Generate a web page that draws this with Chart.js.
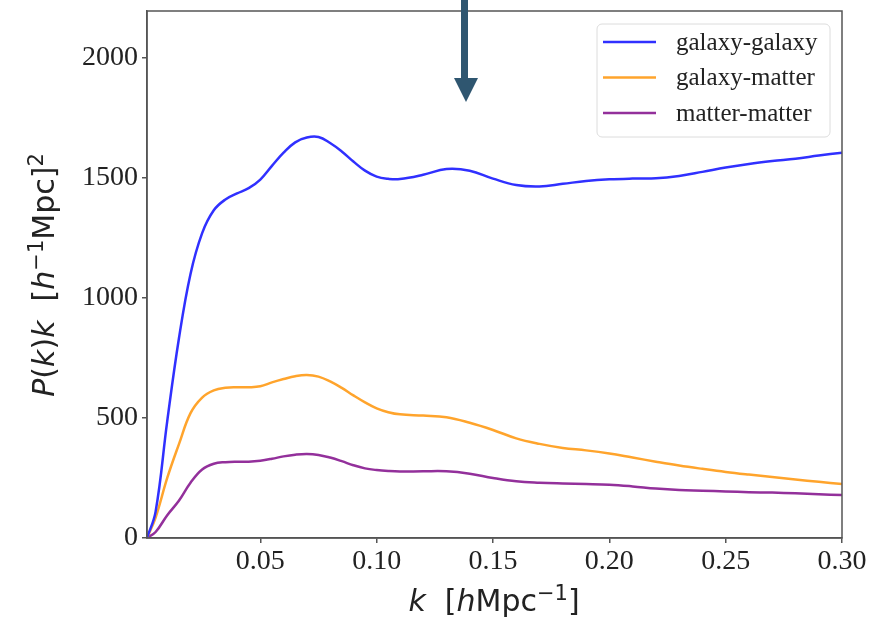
<!DOCTYPE html>
<html>
<head>
<meta charset="utf-8">
<script src="https://cdn.jsdelivr.net/npm/chart.js@4/dist/chart.umd.min.js"></script>
<style>
  html, body { margin: 0; padding: 0; background: #fff; }
  #wrap { width: 892px; height: 618px; }
</style>
</head>
<body>
<div id="wrap"><canvas id="myChart" width="892" height="618"></canvas></div>
<script>
// wavenumber k [h/Mpc]
const kValues = [0.0013, 0.005, 0.01, 0.015, 0.02, 0.025, 0.03, 0.035, 0.04, 0.045,
  0.05, 0.055, 0.06, 0.065, 0.07, 0.075, 0.08, 0.085, 0.09, 0.095,
  0.10, 0.105, 0.11, 0.12, 0.13, 0.14, 0.15, 0.16, 0.17, 0.18,
  0.19, 0.20, 0.21, 0.22, 0.23, 0.24, 0.25, 0.26, 0.27, 0.28, 0.29, 0.30];

const galaxyGalaxy = [0, 110, 487, 830, 1100, 1270, 1365, 1410, 1435, 1457,
  1493, 1550, 1605, 1648, 1668, 1670, 1645, 1610, 1568, 1530,
  1505, 1496, 1495, 1513, 1537, 1530, 1497, 1470, 1464, 1475,
  1487, 1494, 1497, 1498, 1508, 1525, 1543, 1558, 1570, 1580, 1593, 1605];

const galaxyMatter = [0, 85, 250, 390, 520, 585, 615, 626, 628, 628,
  632, 648, 662, 674, 679, 672, 652, 625, 594, 565,
  540, 524, 515, 510, 503, 480, 450, 415, 392, 375,
  365, 352, 335, 318, 302, 288, 275, 264, 254, 244, 234, 225];

const matterMatter = [0, 25, 95, 155, 230, 285, 309, 316, 318, 318,
  322, 330, 340, 347, 350, 346, 335, 320, 303, 290,
  283, 279, 277, 278, 278, 268, 250, 236, 230, 227,
  225, 222, 215, 206, 200, 197, 194, 191, 189, 186, 182, 179];

const seriesLabels = ['galaxy-galaxy', 'galaxy-matter', 'matter-matter'];
const xTicks = [0.05, 0.10, 0.15, 0.20, 0.25, 0.30];
const yTicks = [0, 500, 1000, 1500, 2000];

const colors = ['rgb(48,48,255)', '#ffa42c', '#93309b'];
const serif = '"Liberation Serif", "DejaVu Serif", serif';
const sans = '"DejaVu Sans", sans-serif';

function toPoints(ys) {
  return kValues.map((k, i) => ({ x: k, y: ys[i] }));
}

// draw a run of text pieces: [text, italic, superscript]
function drawPieces(ctx, pieces, size) {
  let x = 0;
  pieces.forEach(p => {
    const s = p[2] ? size * 0.7 : size;
    ctx.font = (p[1] ? 'italic ' : '') + s + 'px ' + sans;
    ctx.fillText(p[0], x, p[2] ? -size * 0.38 : 0);
    x += ctx.measureText(p[0]).width;
  });
  return x;
}
function measurePieces(ctx, pieces, size) {
  let w = 0;
  pieces.forEach(p => {
    const s = p[2] ? size * 0.7 : size;
    ctx.font = (p[1] ? 'italic ' : '') + s + 'px ' + sans;
    w += ctx.measureText(p[0]).width;
  });
  return w;
}

const decor = {
  id: 'decor',
  afterDraw(chart) {
    const ctx = chart.ctx;
    const a = chart.chartArea;
    ctx.save();
    // frame
    ctx.strokeStyle = '#555';
    ctx.lineWidth = 1.5;
    ctx.strokeRect(a.left, a.top, a.right - a.left, a.bottom - a.top);

    // legend box
    const lx = 597, ly = 24, lw = 233, lh = 113, r = 5;
    ctx.beginPath();
    ctx.moveTo(lx + r, ly);
    ctx.arcTo(lx + lw, ly, lx + lw, ly + lh, r);
    ctx.arcTo(lx + lw, ly + lh, lx, ly + lh, r);
    ctx.arcTo(lx, ly + lh, lx, ly, r);
    ctx.arcTo(lx, ly, lx + lw, ly, r);
    ctx.closePath();
    ctx.fillStyle = 'rgba(255,255,255,0.8)';
    ctx.fill();
    ctx.strokeStyle = '#dcdcdc';
    ctx.lineWidth = 1;
    ctx.stroke();
    chart.data.datasets.forEach((ds, i) => {
      const y = 42 + i * 35.5;
      ctx.strokeStyle = ds.borderColor;
      ctx.lineWidth = 2.5;
      ctx.beginPath();
      ctx.moveTo(603, y);
      ctx.lineTo(656, y);
      ctx.stroke();
      ctx.fillStyle = '#222';
      ctx.font = '25px ' + serif;
      ctx.textBaseline = 'middle';
      ctx.textAlign = 'left';
      ctx.fillText(ds.label, 676, y + 1);
    });

    // axis titles
    ctx.fillStyle = '#222';
    ctx.textBaseline = 'alphabetic';
    ctx.textAlign = 'left';
    const xt = [['k', true], ['  [', false], ['h', true], ['Mpc', false], ['\u22121', false, true], [']', false]];
    const xw = measurePieces(ctx, xt, 30);
    ctx.save();
    ctx.translate(494 - xw / 2, 611);
    drawPieces(ctx, xt, 30);
    ctx.restore();

    const yt = [['P', true], ['(', false], ['k', true], [')', false], ['k', true], ['  [', false],
      ['h', true], ['\u22121', false, true], ['Mpc', false], [']', false], ['2', false, true]];
    const yw = measurePieces(ctx, yt, 30);
    ctx.save();
    ctx.translate(54, 275 + yw / 2);
    ctx.rotate(-Math.PI / 2);
    drawPieces(ctx, yt, 30);
    ctx.restore();

    // arrow
    ctx.fillStyle = '#2f5670';
    ctx.fillRect(461, 0, 7, 80);
    ctx.beginPath();
    ctx.moveTo(454, 78);
    ctx.lineTo(478, 78);
    ctx.lineTo(466, 102);
    ctx.closePath();
    ctx.fill();
    ctx.restore();
  }
};

const ctx = document.getElementById('myChart').getContext('2d');
new Chart(ctx, {
  type: 'line',
  data: {
    datasets: [
      { label: seriesLabels[0], data: toPoints(galaxyGalaxy), borderColor: colors[0] },
      { label: seriesLabels[1], data: toPoints(galaxyMatter), borderColor: colors[1] },
      { label: seriesLabels[2], data: toPoints(matterMatter), borderColor: colors[2] }
    ]
  },
  options: {
    responsive: false,
    animation: false,
    devicePixelRatio: 1,
    layout: { padding: { left: 0, top: 11, right: 50, bottom: 0 } },
    elements: {
      point: { radius: 0 },
      line: { borderWidth: 2.5, tension: 0.4, fill: false }
    },
    plugins: {
      legend: { display: false },
      tooltip: { enabled: false }
    },
    scales: {
      x: {
        type: 'linear',
        min: 0.0013,
        max: 0.30,
        afterBuildTicks: s => { s.ticks = xTicks.map(v => ({ value: v })); },
        afterFit: s => { s.height = 80; s.paddingLeft = 0; s.paddingRight = 0; },
        grid: { drawOnChartArea: false, drawTicks: true, tickLength: 5, color: '#555', lineWidth: 1.5 },
        border: { display: true, color: '#555', width: 1.5 },
        ticks: {
          color: '#222',
          font: { family: serif, size: 28 },
          padding: 2,
          maxRotation: 0,
          callback: v => Number(v).toFixed(2)
        }
      },
      y: {
        type: 'linear',
        min: 0,
        max: 2195,
        afterBuildTicks: s => { s.ticks = yTicks.map(v => ({ value: v })); },
        afterFit: s => { s.width = 147; s.paddingTop = 0; s.paddingBottom = 0; },
        grid: { drawOnChartArea: false, drawTicks: true, tickLength: 5, color: '#555', lineWidth: 1.5 },
        border: { display: true, color: '#555', width: 1.5 },
        ticks: {
          color: '#222',
          font: { family: serif, size: 28 },
          padding: 4,
          callback: v => String(v)
        }
      }
    }
  },
  plugins: [decor]
});
</script>
</body>
</html>
